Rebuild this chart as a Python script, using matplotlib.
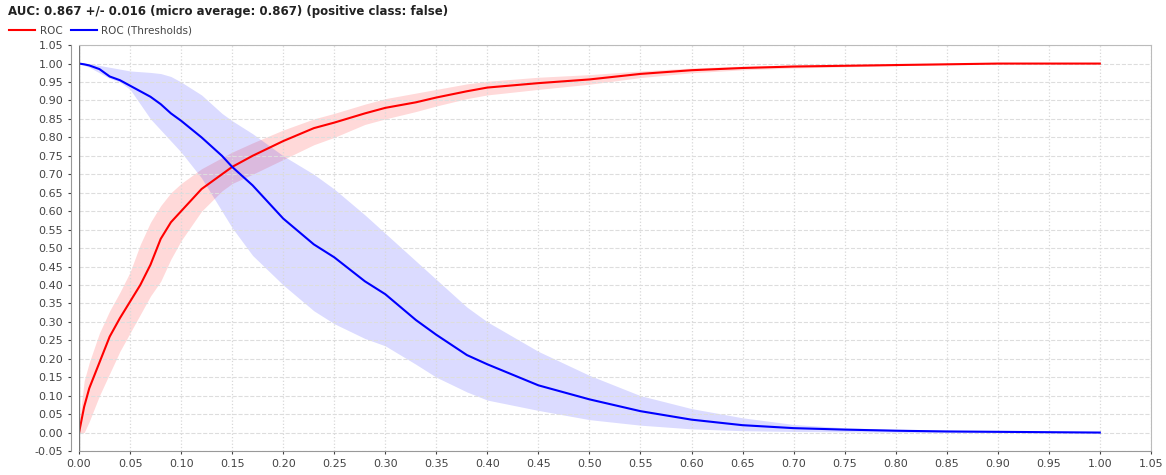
import numpy as np
import matplotlib.pyplot as plt

# false positive rate grid
fpr = [0, 0.005, 0.01, 0.02, 0.03, 0.04, 0.05, 0.06, 0.07, 0.08, 0.09, 0.10,
       0.12, 0.14, 0.15, 0.17, 0.20, 0.23, 0.25, 0.28, 0.30, 0.33, 0.35, 0.38,
       0.40, 0.45, 0.50, 0.55, 0.60, 0.65, 0.70, 0.75, 0.80, 0.85, 0.90, 0.95, 1.0]

# ROC (mean, lower, upper)
roc = [0, 0.07, 0.12, 0.19, 0.26, 0.31, 0.355, 0.40, 0.455, 0.525, 0.57, 0.60,
       0.66, 0.70, 0.72, 0.75, 0.79, 0.825, 0.84, 0.865, 0.88, 0.895, 0.908, 0.925,
       0.935, 0.947, 0.957, 0.972, 0.982, 0.988, 0.992, 0.994, 0.996, 0.998, 1.0, 1.0, 1.0]
roc_hi = [0.02, 0.14, 0.19, 0.27, 0.33, 0.38, 0.435, 0.51, 0.57, 0.615, 0.65, 0.675,
          0.715, 0.745, 0.76, 0.785, 0.82, 0.85, 0.865, 0.89, 0.905, 0.92, 0.93, 0.945,
          0.952, 0.963, 0.97, 0.98, 0.988, 0.993, 0.996, 0.997, 0.998, 0.999, 1.0, 1.0, 1.0]
roc_lo = [0, 0.0, 0.03, 0.10, 0.16, 0.22, 0.27, 0.32, 0.37, 0.41, 0.47, 0.52,
          0.60, 0.655, 0.675, 0.70, 0.74, 0.78, 0.80, 0.835, 0.85, 0.87, 0.885, 0.905,
          0.915, 0.93, 0.944, 0.962, 0.975, 0.983, 0.988, 0.991, 0.994, 0.997, 1.0, 1.0, 1.0]

# ROC (Thresholds) (mean, lower, upper)
thr = [1.0, 0.998, 0.995, 0.985, 0.965, 0.955, 0.94, 0.925, 0.91, 0.89, 0.865, 0.845,
       0.80, 0.75, 0.72, 0.67, 0.58, 0.51, 0.475, 0.41, 0.375, 0.305, 0.265, 0.21,
       0.185, 0.128, 0.09, 0.058, 0.035, 0.02, 0.012, 0.008, 0.005, 0.003, 0.002, 0.001, 0.0]
thr_hi = [1.0, 1.0, 1.0, 0.995, 0.99, 0.985, 0.98, 0.978, 0.976, 0.973, 0.965, 0.95,
          0.915, 0.865, 0.845, 0.81, 0.75, 0.70, 0.66, 0.59, 0.54, 0.465, 0.415, 0.34,
          0.30, 0.22, 0.155, 0.10, 0.065, 0.04, 0.022, 0.013, 0.009, 0.006, 0.004, 0.002, 0.0]
thr_lo = [1.0, 0.995, 0.99, 0.975, 0.96, 0.95, 0.93, 0.89, 0.85, 0.82, 0.79, 0.76,
          0.69, 0.60, 0.555, 0.48, 0.40, 0.33, 0.295, 0.255, 0.235, 0.185, 0.15, 0.11,
          0.088, 0.06, 0.035, 0.02, 0.01, 0.005, 0.003, 0.002, 0.001, 0.0, 0.0, 0.0, 0.0]

title = "AUC: 0.867 +/- 0.016 (micro average: 0.867) (positive class: false)"

fig = plt.figure(figsize=(11.66, 4.75), dpi=100)
ax = fig.add_axes([0.0678, 0.0505, 0.9192, 0.8545])

ax.fill_between(fpr, roc_lo, roc_hi, color="#ff0000", alpha=0.15, lw=0)
ax.fill_between(fpr, thr_lo, thr_hi, color="#0000ff", alpha=0.14, lw=0)
ax.plot(fpr, roc, color="#ff0000", lw=1.5, label="ROC")
ax.plot(fpr, thr, color="#0000ff", lw=1.5, label="ROC (Thresholds)")

ticks = np.round(np.arange(-0.05, 1.0501, 0.05), 2)
ax.set_xlim(0, 1.05)
ax.set_ylim(-0.05, 1.05)
ax.set_xticks(ticks[1:])
ax.set_yticks(ticks)
ax.set_xticklabels(["%.2f" % t for t in ticks[1:]])
ax.set_yticklabels(["%.2f" % t for t in ticks])
ax.tick_params(labelsize=8, colors="#444444", length=2, width=0.8)
ax.xaxis.grid(True, color="#d8d8d8", linestyle=":", linewidth=0.9)
ax.yaxis.grid(True, color="#dddddd", linestyle="--", linewidth=0.8)

for s in ["top", "right"]:
    ax.spines[s].set_color("#bbbbbb")
ax.spines["bottom"].set_color("#999999")
ax.spines["left"].set_color("#999999")
ax.spines["left"].set_position(("outward", 6))
ax.axvline(0, color="#777777", lw=1)

fig.text(0.007, 0.975, title, fontsize=8.5, fontweight="bold", va="center", color="#222222")
fig.legend(loc="center left", bbox_to_anchor=(0.0, 0.935), ncol=2, frameon=False,
           fontsize=7.5, handlelength=2.5, handletextpad=0.4, columnspacing=0.8,
           labelcolor="#444444")

fig.savefig("out.png", dpi=100)
